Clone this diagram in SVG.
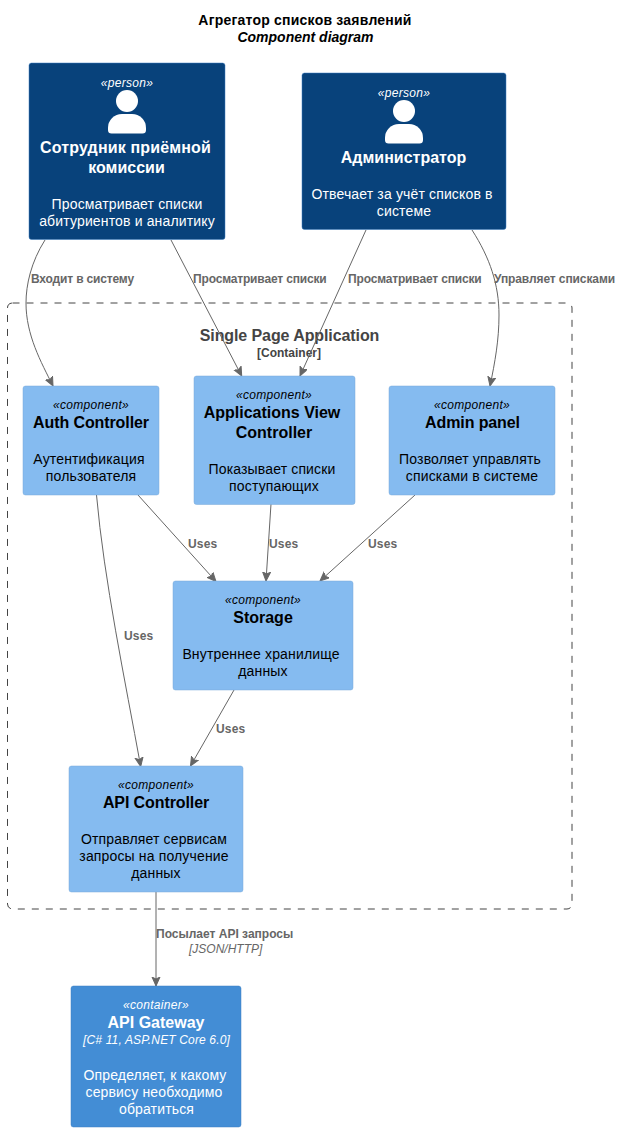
<svg xmlns="http://www.w3.org/2000/svg" width="623" height="1131" viewBox="0 0 623 1131">
<style>
text{font-family:"Liberation Sans",Arial,sans-serif;text-anchor:middle}
.st{font-size:12px;font-style:italic;fill:#fff;letter-spacing:.3px}
.nm{font-size:16px;font-weight:bold;fill:#fff}
.ds{font-size:14px;fill:#fff;letter-spacing:.15px}
.tc{font-size:12px;font-style:italic;fill:#fff;letter-spacing:.15px}
.rl{font-size:12px;font-weight:bold;fill:#666;text-anchor:start}
.ru{letter-spacing:-.16px}
.us{letter-spacing:.2px}
.d{fill:#000}
.p{fill:#08427B;stroke:#3C7FC0;stroke-width:.5}
.c{fill:#85BBF0;stroke:#78A8D8;stroke-width:.5}
.k{fill:#438DD5;stroke:#3C7FC0;stroke-width:.5}
.ln{fill:none;stroke:#666;stroke-width:1}
.ah{fill:#666;stroke:#666}
</style>
<defs>
<marker id="a" markerUnits="userSpaceOnUse" markerWidth="12" markerHeight="10" refX="9" refY="4.5" orient="auto"><path class="ah" d="M0,0.5 L9,4.5 L0,8.5 L2,4.5 Z"/></marker>
<g id="person"><circle cx="0" cy="0" r="11" fill="#fff"/><path d="M-19,27 A14,14 0 0 1 -5,13 H5 A14,14 0 0 1 19,27 V29 Q19,32.500 15.500,32.500 H-15.500 Q-19,32.500 -19,29 Z" fill="#fff"/></g>
</defs>
<g id="title">
<text x="305" y="25" font-size="14" font-weight="bold" fill="#000" letter-spacing=".22">Агрегатор списков заявлений</text>
<text x="305.500" y="42" font-size="14" font-weight="bold" font-style="italic" fill="#000">Component diagram</text>
</g>
<g id="boundary">
<rect x="7.500" y="303" width="564.500" height="606" rx="5" fill="none" stroke="#444" stroke-dasharray="7,7"/>
<text x="289.500" y="341" font-size="16" font-weight="bold" fill="#444" letter-spacing="-.09">Single Page Application</text>
<text x="289" y="357" font-size="12" font-weight="bold" fill="#444">[Container]</text>
</g>
<g id="connectors">
<path class="ln" marker-end="url(#a)" d="M45,240 C31,262 26,285 26,303 C26,335 41,362 53,386"/>
<path class="ln" marker-end="url(#a)" d="M171,240 L241.700,376"/>
<path class="ln" marker-end="url(#a)" d="M366,230 L300,376"/>
<path class="ln" marker-end="url(#a)" d="M472,230 C490,258 499,285 499,315 C499,340 495,362 490,386"/>
<path class="ln" marker-end="url(#a)" d="M138,495 L216,581.500"/>
<path class="ln" marker-end="url(#a)" d="M271,504 L266,581"/>
<path class="ln" marker-end="url(#a)" d="M415,495 L320,581"/>
<path class="ln" marker-end="url(#a)" d="M96.500,495 C104,580 125,680 140.700,766.500"/>
<path class="ln" marker-end="url(#a)" d="M234,690 L190.500,766"/>
<path class="ln" marker-end="url(#a)" d="M156,892 L156,986"/>
<text class="rl ru" x="31" y="283">Входит в систему</text>
<text class="rl ru" x="193" y="283">Просматривает списки</text>
<text class="rl ru" x="348" y="283">Просматривает списки</text>
<text class="rl" x="494" y="283" letter-spacing="-.1">Управляет списками</text>
<text class="rl us" x="188" y="548">Uses</text>
<text class="rl us" x="269" y="548">Uses</text>
<text class="rl us" x="368" y="548">Uses</text>
<text class="rl us" x="124" y="640">Uses</text>
<text class="rl us" x="216" y="733">Uses</text>
<text class="rl" x="156" y="938">Посылает API запросы</text>
<text class="rl" x="189" y="953" style="font-weight:normal;font-style:italic">[JSON/HTTP]</text>
</g>
<g id="n-staff">
<rect class="p" x="29" y="63" width="196" height="176.500" rx="2.500"/>
<text class="st" x="127" y="87">«person»</text>
<use href="#person" x="127" y="101"/>
<text class="nm" x="125.500" y="153" letter-spacing=".15">Сотрудник приёмной</text>
<text class="nm" x="126.500" y="173">комиссии</text>
<text class="ds" x="127" y="209">Просматривает списки</text>
<text class="ds" x="127" y="226">абитуриентов и аналитику</text>
</g>
<g id="n-admin">
<rect class="p" x="302" y="73" width="204" height="156.500" rx="2.500"/>
<text class="st" x="404" y="97">«person»</text>
<use href="#person" x="404" y="111"/>
<text class="nm" x="403.500" y="163">Администратор</text>
<text class="ds" x="402" y="199">Отвечает за учёт списков в</text>
<text class="ds" x="404" y="216">системе</text>
</g>
<g id="n-auth">
<rect class="c" x="23" y="386" width="136" height="109" rx="2.500"/>
<text class="st d" x="91" y="409">«component»</text>
<text class="nm d" x="91" y="428" letter-spacing="-.1">Auth Controller</text>
<text class="ds d" x="89" y="464">Аутентификация</text>
<text class="ds d" x="91" y="481">пользователя</text>
</g>
<g id="n-view">
<rect class="c" x="194" y="376" width="161" height="128.500" rx="2.500"/>
<text class="st d" x="274" y="399">«component»</text>
<text class="nm d" x="272" y="418">Applications View</text>
<text class="nm d" x="274" y="438">Controller</text>
<text class="ds d" x="272" y="474">Показывает списки</text>
<text class="ds d" x="274" y="491">поступающих</text>
</g>
<g id="n-admin-panel">
<rect class="c" x="389" y="386" width="166" height="109" rx="2.500"/>
<text class="st d" x="472" y="409">«component»</text>
<text class="nm d" x="472.500" y="428" letter-spacing="-.1">Admin panel</text>
<text class="ds d" x="470" y="464">Позволяет управлять</text>
<text class="ds d" x="472" y="481">списками в системе</text>
</g>
<g id="n-storage">
<rect class="c" x="173" y="581" width="180" height="109" rx="2.500"/>
<text class="st d" x="263" y="604">«component»</text>
<text class="nm d" x="263" y="623">Storage</text>
<text class="ds d" x="261" y="659">Внутреннее хранилище</text>
<text class="ds d" x="263" y="676">данных</text>
</g>
<g id="n-api">
<rect class="c" x="69" y="766" width="174" height="126" rx="2.500"/>
<text class="st d" x="156" y="789">«component»</text>
<text class="nm d" x="156" y="808" letter-spacing="-.1">API Controller</text>
<text class="ds d" x="154" y="844">Отправляет сервисам</text>
<text class="ds d" x="154" y="861">запросы на получение</text>
<text class="ds d" x="156" y="878">данных</text>
</g>
<g id="n-gateway">
<rect class="k" x="71" y="986" width="170" height="141" rx="2.500"/>
<text class="st" x="156" y="1009">«container»</text>
<text class="nm" x="156" y="1028">API Gateway</text>
<text class="tc" x="156.500" y="1044">[C# 11, ASP.NET Core 6.0]</text>
<text class="ds" x="155" y="1080">Определяет, к какому</text>
<text class="ds" x="154" y="1097">сервису необходимо</text>
<text class="ds" x="156.500" y="1114">обратиться</text>
</g>
</svg>
